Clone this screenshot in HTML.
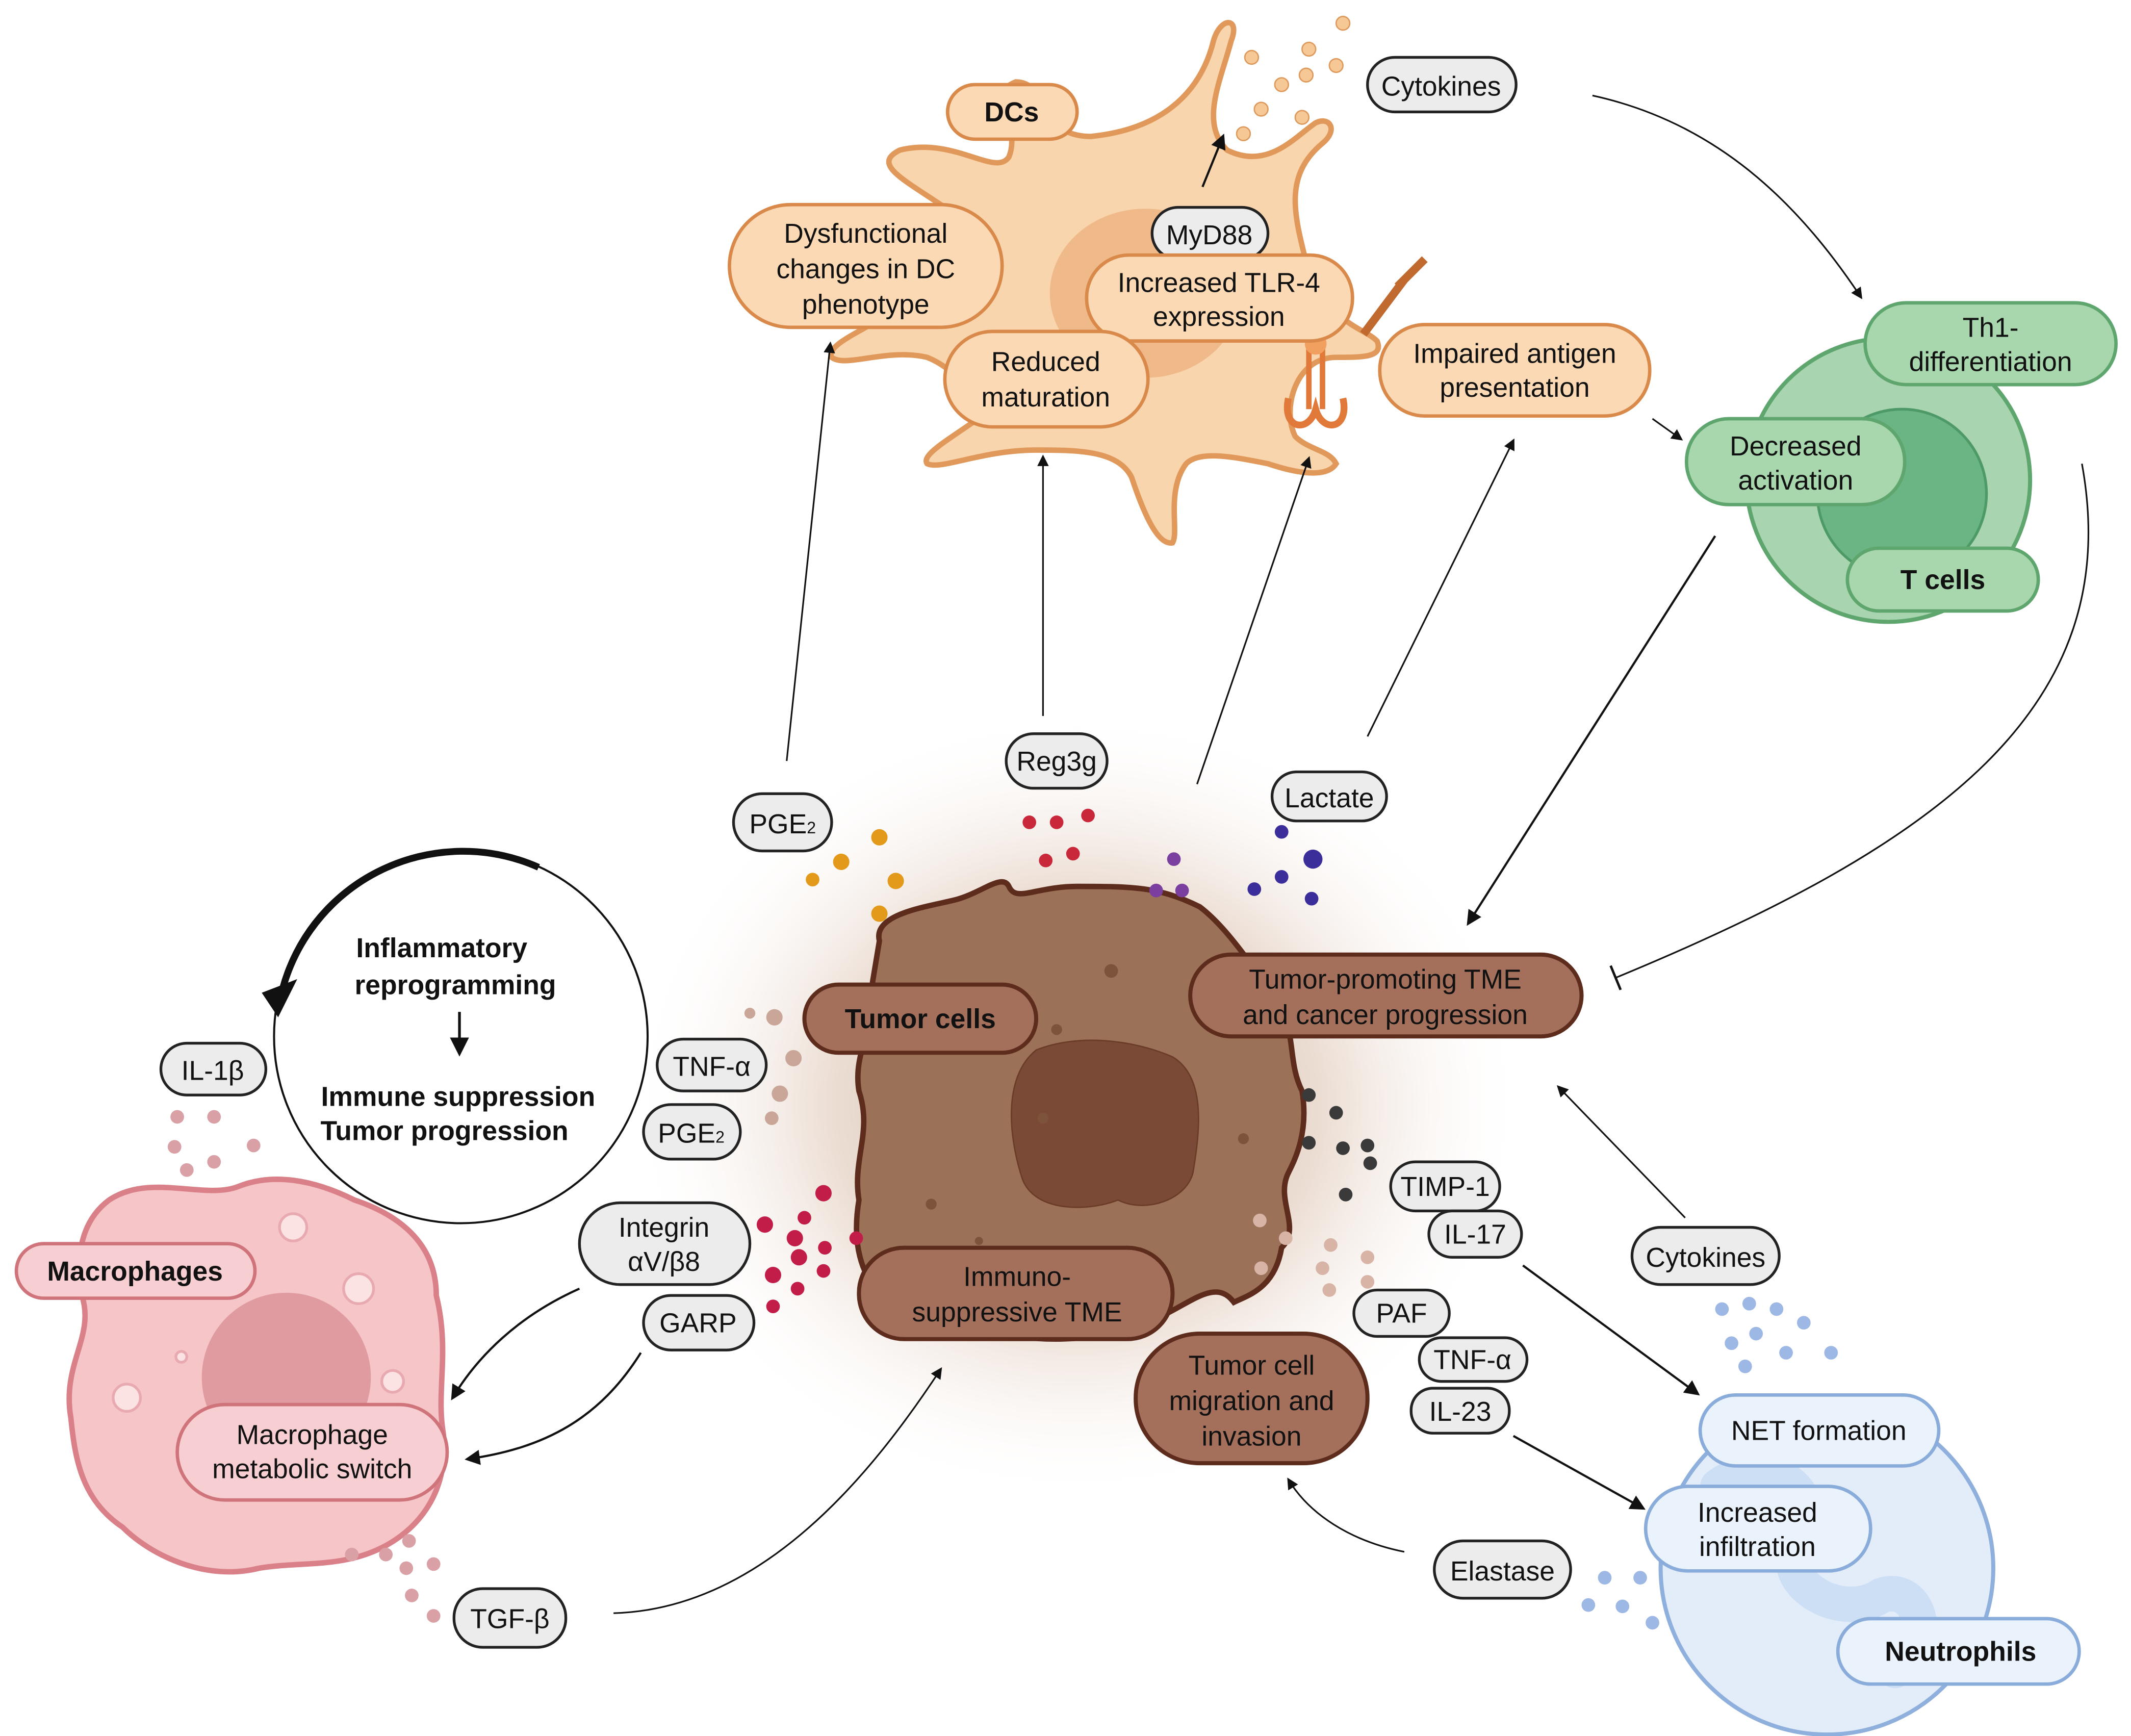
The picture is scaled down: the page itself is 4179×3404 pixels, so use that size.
<!DOCTYPE html>
<html><head><meta charset="utf-8"><style>
html,body{margin:0;padding:0;background:#fff}
svg{display:block}
text{font-family:"Liberation Sans",sans-serif;font-size:20px;fill:#111;text-anchor:middle}
.b{font-weight:bold}
</style></head><body>
<svg width="4179" height="3404" viewBox="0 0 1563 1273" xmlns="http://www.w3.org/2000/svg">
<defs>
<radialGradient id="glow" cx="0.5" cy="0.5" r="0.5">
<stop offset="0" stop-color="#8a5a3a" stop-opacity="0.55"/>
<stop offset="0.55" stop-color="#c9a083" stop-opacity="0.35"/>
<stop offset="1" stop-color="#fff" stop-opacity="0"/>
</radialGradient>
<marker id="ah" viewBox="0 0 10 10" refX="8" refY="5" markerWidth="7" markerHeight="7" orient="auto"><path d="M0,0 L10,5 L0,10 z" fill="#111"/></marker>
<marker id="bar" viewBox="0 0 4 16" refX="2" refY="8" markerWidth="4" markerHeight="16" orient="auto"><path d="M2,0 L2,16" stroke="#111" stroke-width="1.5"/></marker>
</defs>
<rect width="1563" height="1273" fill="#fff"/>

<!-- tumor glow -->
<ellipse cx="790" cy="810" rx="330" ry="290" fill="url(#glow)"/>

<!-- DC cell -->
<path d="M690,150 C660,130 640,120 660,110 C700,100 730,130 740,115 C750,90 720,70 745,60 C770,60 760,100 800,100 C850,95 880,70 890,30 C895,12 910,12 903,30 C895,60 880,90 900,110 C930,125 950,100 965,90 C975,85 982,95 970,105 C940,130 950,160 960,200 C980,240 1000,240 1010,250 C1015,262 1000,262 980,262 C950,262 940,300 950,320 C960,330 975,330 980,340 C975,348 960,350 930,340 C905,335 880,330 870,340 C855,360 865,390 860,398 C850,400 840,380 830,350 C820,330 790,330 760,330 C720,330 690,345 680,340 C675,333 700,320 720,305 C710,285 700,270 680,262 C650,255 620,270 610,262 C605,252 640,240 650,230 C660,210 650,180 690,150 Z" fill="#f8d5ad" stroke="#e0995a" stroke-width="4"/>
<ellipse cx="840" cy="215" rx="70" ry="62" fill="#f0b98a"/>
<!-- receptor -->
<path d="M960,255 L960,300 M970,255 L970,300" stroke="#e0793a" stroke-width="4"/>
<path d="M945,292 C940,315 960,318 965,300 C970,318 990,315 985,292" fill="none" stroke="#e0793a" stroke-width="5"/>
<circle cx="965" cy="252" r="8" fill="#f2a060"/>
<path d="M1000,245 L1030,205 M1025,210 L1045,190" stroke="#c06a30" stroke-width="6"/>

<!-- T cell -->
<circle cx="1385" cy="352" r="104" fill="#a8d5b0" stroke="#5ea66e" stroke-width="3"/>
<circle cx="1395" cy="362" r="62" fill="#6bb584" stroke="#4e9a66" stroke-width="2"/>

<!-- tumor cell -->
<path d="M645,690 C640,670 680,665 700,660 C720,655 735,640 740,650 C745,662 760,650 790,650 C830,650 850,650 880,665 C900,680 920,710 940,740 C950,760 945,780 955,800 C960,830 950,850 945,860 C935,880 955,900 940,915 C935,945 915,950 905,955 C890,935 870,960 840,970 C800,985 760,985 720,975 C700,965 660,975 650,955 C630,935 625,910 630,880 C625,850 640,830 630,800 C625,770 645,750 640,720 Z" fill="#9b7158" stroke="#5e2c1c" stroke-width="4"/>
<path d="M760,770 C790,758 830,762 860,775 C885,790 880,830 875,860 C870,880 840,890 820,880 C800,888 760,890 750,865 C740,835 735,790 760,770 Z" fill="#7b4a36" stroke="#6a3c28" stroke-width="1"/>
<g fill="#7e533c"><circle cx="815" cy="712" r="5"/><circle cx="688" cy="756" r="3"/><circle cx="765" cy="820" r="4"/><circle cx="683" cy="883" r="4"/><circle cx="912" cy="835" r="4"/><circle cx="718" cy="910" r="3"/><circle cx="775" cy="755" r="4"/></g>

<!-- macrophage -->
<path d="M80,880 C110,860 150,880 175,870 C200,860 230,865 260,880 C290,890 320,910 320,950 C330,990 320,1020 325,1050 C330,1090 310,1120 280,1135 C250,1150 220,1145 190,1150 C150,1160 110,1140 90,1120 C60,1100 55,1070 52,1040 C45,1000 70,980 60,950 C55,920 60,895 80,880 Z" fill="#f5c5c8" stroke="#d98088" stroke-width="4"/>
<circle cx="210" cy="1010" r="62" fill="#e09ba0"/>
<g fill="#fbe3e4" stroke="#e8aab0" stroke-width="2"><circle cx="215" cy="900" r="10"/><circle cx="263" cy="945" r="11"/><circle cx="93" cy="1025" r="10"/><circle cx="288" cy="1013" r="8"/><circle cx="180" cy="930" r="5"/><circle cx="133" cy="995" r="4"/></g>

<!-- neutrophil -->
<circle cx="1340" cy="1150" r="122" fill="#e3edfa" stroke="#8fb0dd" stroke-width="3"/>
<path d="M1260,1090 C1300,1060 1340,1100 1320,1130 C1300,1160 1350,1190 1380,1170 C1410,1160 1420,1210 1390,1225" fill="none" stroke="#cddff4" stroke-width="26" stroke-linecap="round"/>

<!-- inflammatory circle -->
<circle cx="338" cy="760" r="137" fill="none" stroke="#111" stroke-width="1.5"/>
<path d="M395,636 A137,137 0 0,0 205,735" fill="none" stroke="#111" stroke-width="5"/>
<path d="M192,728 L218,718 L204,746 Z" fill="#111"/>
<text class="b" x="324" y="702">Inflammatory</text>
<text class="b" x="334" y="729">reprogramming</text>
<line x1="337" y1="742" x2="337" y2="772" stroke="#111" stroke-width="2" marker-end="url(#ah)"/>
<text class="b" x="336" y="811">Immune suppression</text>
<text class="b" x="326" y="836">Tumor progression</text>

<!-- connectors -->
<g stroke="#111" stroke-width="1.2" fill="none" marker-end="url(#ah)">
<line x1="577" y1="558" x2="609" y2="252"/>
<line x1="765" y1="525" x2="765" y2="335"/>
<line x1="878" y1="575" x2="960" y2="336"/>
<line x1="1003" y1="540" x2="1110" y2="323"/>
<path d="M1168,70 C1260,90 1320,150 1365,218"/>
<line x1="1212" y1="307" x2="1233" y2="322"/>
<line x1="1258" y1="393" x2="1077" y2="677" stroke-width="1.6"/>
<line x1="1236" y1="893" x2="1143" y2="797"/>
<line x1="1117" y1="928" x2="1245" y2="1022" stroke-width="1.6"/>
<line x1="1110" y1="1053" x2="1205" y2="1106" stroke-width="1.6"/>
<path d="M1030,1138 C990,1130 960,1110 945,1085"/>
<path d="M425,945 C380,965 350,995 332,1025" stroke-width="1.6"/>
<path d="M470,992 C440,1040 400,1062 343,1070" stroke-width="1.6"/>
<path d="M450,1183 C560,1180 640,1080 690,1004"/>
<line x1="882" y1="137" x2="897" y2="100" stroke-width="1.6"/>
</g>
<path d="M1527,340 C1560,520 1420,620 1185,717" stroke="#111" stroke-width="1.2" fill="none" marker-end="url(#bar)"/>

<!-- dots -->
<g fill="#f5c896" stroke="#dd9a5c" stroke-width="1"><circle cx="985" cy="17" r="5"/><circle cx="918" cy="42" r="5"/><circle cx="960" cy="36" r="5"/><circle cx="980" cy="48" r="5"/><circle cx="940" cy="62" r="5"/><circle cx="958" cy="55" r="5"/><circle cx="925" cy="80" r="5"/><circle cx="955" cy="86" r="5"/><circle cx="912" cy="98" r="5"/></g>
<g fill="#e39a1b"><circle cx="645" cy="614" r="6"/><circle cx="617" cy="632" r="6"/><circle cx="596" cy="645" r="5"/><circle cx="657" cy="646" r="6"/><circle cx="645" cy="670" r="6"/></g>
<g fill="#c8283a"><circle cx="755" cy="603" r="5"/><circle cx="775" cy="603" r="5"/><circle cx="798" cy="598" r="5"/><circle cx="767" cy="631" r="5"/><circle cx="787" cy="626" r="5"/></g>
<g fill="#7b3fa0"><circle cx="861" cy="630" r="5"/><circle cx="848" cy="653" r="5"/><circle cx="867" cy="653" r="5"/></g>
<g fill="#3b2e9a"><circle cx="940" cy="610" r="5"/><circle cx="963" cy="630" r="7"/><circle cx="940" cy="643" r="5"/><circle cx="920" cy="652" r="5"/><circle cx="962" cy="659" r="5"/></g>
<g fill="#c9a698"><circle cx="550" cy="743" r="4"/><circle cx="568" cy="746" r="6"/><circle cx="582" cy="776" r="6"/><circle cx="572" cy="802" r="6"/><circle cx="566" cy="820" r="5"/></g>
<g fill="#c21d49"><circle cx="604" cy="875" r="6"/><circle cx="590" cy="893" r="5"/><circle cx="583" cy="908" r="6"/><circle cx="561" cy="898" r="6"/><circle cx="628" cy="908" r="5"/><circle cx="605" cy="915" r="5"/><circle cx="586" cy="922" r="6"/><circle cx="567" cy="935" r="6"/><circle cx="604" cy="932" r="5"/><circle cx="585" cy="945" r="5"/><circle cx="567" cy="958" r="5"/></g>
<g fill="#3a3a3a"><circle cx="960" cy="803" r="5"/><circle cx="980" cy="816" r="5"/><circle cx="960" cy="838" r="5"/><circle cx="985" cy="842" r="5"/><circle cx="1003" cy="840" r="5"/><circle cx="1005" cy="853" r="5"/><circle cx="987" cy="876" r="5"/></g>
<g fill="#d8b4a6"><circle cx="924" cy="895" r="5"/><circle cx="943" cy="908" r="5"/><circle cx="925" cy="930" r="5"/><circle cx="976" cy="913" r="5"/><circle cx="1003" cy="922" r="5"/><circle cx="970" cy="930" r="5"/><circle cx="975" cy="946" r="5"/><circle cx="1003" cy="940" r="5"/></g>
<g fill="#d9a0a6"><circle cx="130" cy="819" r="5"/><circle cx="157" cy="819" r="5"/><circle cx="128" cy="841" r="5"/><circle cx="186" cy="840" r="5"/><circle cx="137" cy="858" r="5"/><circle cx="157" cy="852" r="5"/></g>
<g fill="#d9a0a6"><circle cx="258" cy="1140" r="5"/><circle cx="283" cy="1140" r="5"/><circle cx="300" cy="1130" r="5"/><circle cx="298" cy="1150" r="5"/><circle cx="318" cy="1147" r="5"/><circle cx="302" cy="1170" r="5"/><circle cx="318" cy="1185" r="5"/></g>
<g fill="#9db8e4"><circle cx="1263" cy="960" r="5"/><circle cx="1283" cy="956" r="5"/><circle cx="1303" cy="960" r="5"/><circle cx="1323" cy="970" r="5"/><circle cx="1288" cy="978" r="5"/><circle cx="1270" cy="985" r="5"/><circle cx="1310" cy="992" r="5"/><circle cx="1343" cy="992" r="5"/><circle cx="1280" cy="1002" r="5"/><circle cx="1177" cy="1157" r="5"/><circle cx="1203" cy="1157" r="5"/><circle cx="1165" cy="1177" r="5"/><circle cx="1190" cy="1178" r="5"/><circle cx="1212" cy="1190" r="5"/></g>

<!-- gray pills -->
<g fill="#ececec" stroke="#222" stroke-width="2">
<rect x="1003" y="42" width="109" height="40" rx="20"/>
<rect x="845" y="152" width="85" height="38" rx="19"/>
<rect x="538" y="582" width="72" height="42" rx="21"/>
<rect x="738" y="538" width="74" height="40" rx="20"/>
<rect x="933" y="566" width="84" height="36" rx="18"/>
<rect x="118" y="765" width="77" height="38" rx="19"/>
<rect x="482" y="762" width="80" height="38" rx="19"/>
<rect x="472" y="810" width="71" height="40" rx="20"/>
<rect x="425" y="882" width="125" height="60" rx="30"/>
<rect x="472" y="950" width="81" height="40" rx="20"/>
<rect x="333" y="1165" width="82" height="43" rx="21"/>
<rect x="1020" y="852" width="80" height="36" rx="18"/>
<rect x="1048" y="888" width="68" height="34" rx="17"/>
<rect x="993" y="946" width="70" height="34" rx="17"/>
<rect x="1041" y="981" width="79" height="32" rx="16"/>
<rect x="1035" y="1018" width="72" height="33" rx="16"/>
<rect x="1197" y="900" width="108" height="42" rx="21"/>
<rect x="1052" y="1130" width="100" height="42" rx="21"/>
</g>
<text x="1057" y="70">Cytokines</text>
<text x="887" y="179">MyD88</text>
<text x="574" y="611">PGE<tspan font-size="12">2</tspan></text>
<text x="775" y="565">Reg3g</text>
<text x="975" y="592">Lactate</text>
<text x="156" y="792">IL-1β</text>
<text x="522" y="789">TNF-α</text>
<text x="507" y="838">PGE<tspan font-size="12">2</tspan></text>
<text x="487" y="907">Integrin</text>
<text x="487" y="932">αV/β8</text>
<text x="512" y="977">GARP</text>
<text x="374" y="1194">TGF-β</text>
<text x="1060" y="877">TIMP-1</text>
<text x="1082" y="912">IL-17</text>
<text x="1028" y="970">PAF</text>
<text x="1080" y="1004">TNF-α</text>
<text x="1071" y="1042">IL-23</text>
<text x="1251" y="929">Cytokines</text>
<text x="1102" y="1159">Elastase</text>

<!-- orange pills -->
<g fill="#fbd9b4" stroke="#d9894a" stroke-width="2.5">
<rect x="695" y="62" width="95" height="40" rx="20"/>
<rect x="535" y="150" width="200" height="90" rx="45"/>
<rect x="797" y="187" width="195" height="63" rx="31"/>
<rect x="693" y="243" width="149" height="70" rx="35"/>
<rect x="1012" y="238" width="198" height="67" rx="33"/>
</g>
<text class="b" x="742" y="89">DCs</text>
<text x="635" y="178">Dysfunctional</text>
<text x="635" y="204">changes in DC</text>
<text x="635" y="230">phenotype</text>
<text x="894" y="214">Increased TLR-4</text>
<text x="894" y="239">expression</text>
<text x="767" y="272">Reduced</text>
<text x="767" y="298">maturation</text>
<text x="1111" y="266">Impaired antigen</text>
<text x="1111" y="291">presentation</text>

<!-- green pills -->
<g fill="#a8d6ad" stroke="#5ea66e" stroke-width="2.5">
<rect x="1368" y="222" width="184" height="60" rx="30"/>
<rect x="1237" y="307" width="160" height="63" rx="31"/>
<rect x="1355" y="402" width="140" height="46" rx="23"/>
</g>
<text x="1460" y="247">Th1-</text>
<text x="1460" y="272">differentiation</text>
<text x="1317" y="334">Decreased</text>
<text x="1317" y="359">activation</text>
<text class="b" x="1425" y="432">T cells</text>

<!-- brown pills -->
<g fill="#a4705c" stroke="#5e2c1c" stroke-width="3">
<rect x="590" y="722" width="170" height="50" rx="25"/>
<rect x="873" y="700" width="287" height="60" rx="30"/>
<rect x="630" y="915" width="230" height="67" rx="33"/>
<rect x="833" y="978" width="170" height="95" rx="47"/>
</g>
<text class="b" x="675" y="754">Tumor cells</text>
<text x="1016" y="725">Tumor-promoting TME</text>
<text x="1016" y="751">and cancer progression</text>
<text x="746" y="943">Immuno-</text>
<text x="746" y="969">suppressive TME</text>
<text x="918" y="1008">Tumor cell</text>
<text x="918" y="1034">migration and</text>
<text x="918" y="1060">invasion</text>

<!-- pink pills -->
<g fill="#f7cfd2" stroke="#d0747c" stroke-width="2.5">
<rect x="12" y="912" width="175" height="40" rx="20"/>
<rect x="130" y="1030" width="198" height="70" rx="35"/>
</g>
<text class="b" x="99" y="939">Macrophages</text>
<text x="229" y="1059">Macrophage</text>
<text x="229" y="1084">metabolic switch</text>

<!-- blue pills -->
<g fill="#eaf2fc" stroke="#8aacdb" stroke-width="2.5">
<rect x="1247" y="1023" width="175" height="52" rx="26"/>
<rect x="1207" y="1090" width="165" height="62" rx="31"/>
<rect x="1348" y="1187" width="177" height="48" rx="24"/>
</g>
<text x="1334" y="1056">NET formation</text>
<text x="1289" y="1116">Increased</text>
<text x="1289" y="1141">infiltration</text>
<text class="b" x="1438" y="1218">Neutrophils</text>
</svg>
</body></html>
